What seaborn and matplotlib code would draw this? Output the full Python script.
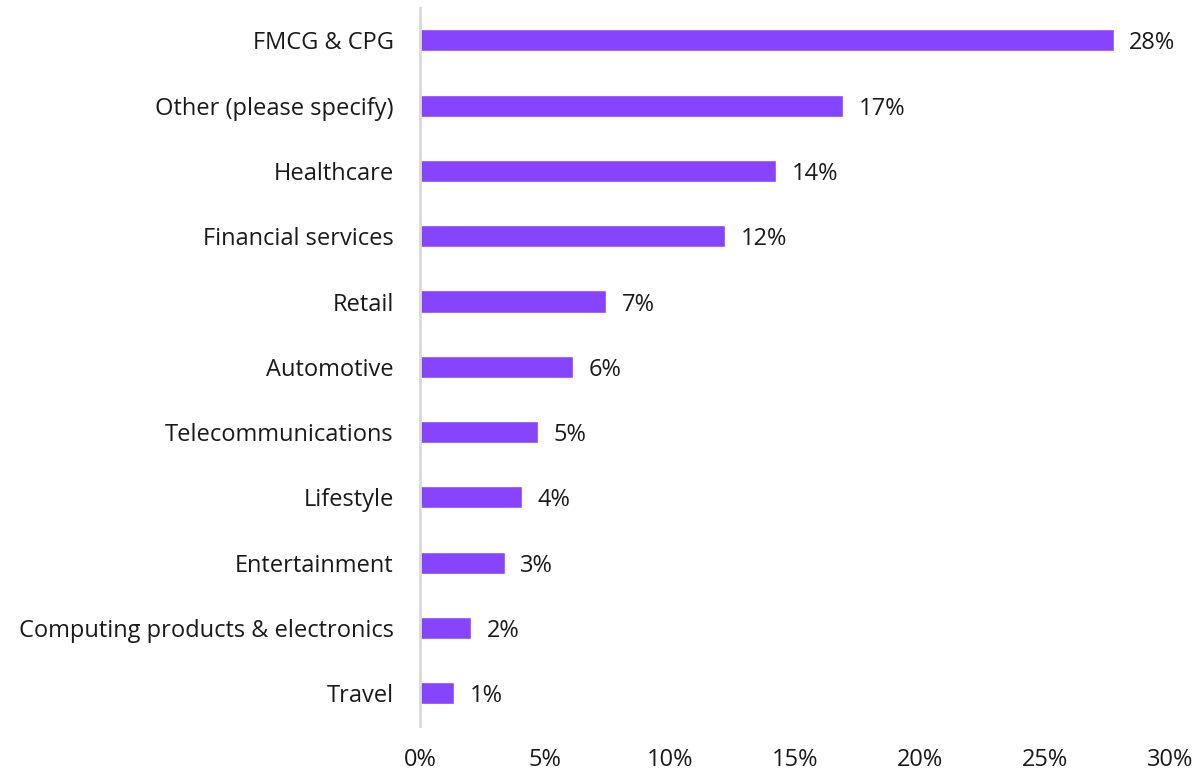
import seaborn as sns
import pandas as pd
import matplotlib.pyplot as plt
from matplotlib.ticker import PercentFormatter

# Share of respondents by industry
industries = ["FMCG & CPG", "Other (please specify)", "Healthcare", "Financial services",
              "Retail", "Automotive", "Telecommunications", "Lifestyle", "Entertainment",
              "Computing products & electronics", "Travel"]
shares = [27.76, 16.92, 14.24, 12.2, 7.44, 6.12, 4.72, 4.08, 3.4, 2.04, 1.36]
labels = ["28%", "17%", "14%", "12%", "7%", "6%", "5%", "4%", "3%", "2%", "1%"]

df = pd.DataFrame({"Industry": industries, "Share": shares})

sns.set_style("white")
plt.rcParams["font.family"] = ["Open Sans", "DejaVu Sans"]

fig, ax = plt.subplots(figsize=(11.97, 7.73), dpi=100)
fig.subplots_adjust(left=0.351, right=0.9775, top=0.99, bottom=0.061)

sns.barplot(data=df, x="Share", y="Industry", color="#8644FF", saturation=1,
            width=0.34, ax=ax)

txts = ax.bar_label(ax.containers[0], labels=labels, padding=11, fontsize=17, color="#1a1a1a")
for t in txts:
    t.set_va("center_baseline")

ax.set_xlim(0, 30)
ax.xaxis.set_major_formatter(PercentFormatter(decimals=0))
ax.set_xticks([0, 5, 10, 15, 20, 25, 30])
ax.set_xlabel("")
ax.set_ylabel("")
ax.tick_params(axis="x", length=0, pad=16, labelsize=17, labelcolor="#1a1a1a")
ax.tick_params(axis="y", length=0, pad=19, labelsize=17, labelcolor="#1a1a1a")

for side in ["top", "right", "bottom"]:
    ax.spines[side].set_visible(False)
ax.spines["left"].set_color("#d9d9d9")
ax.spines["left"].set_linewidth(2)

fig.savefig("out.png", dpi=100)
